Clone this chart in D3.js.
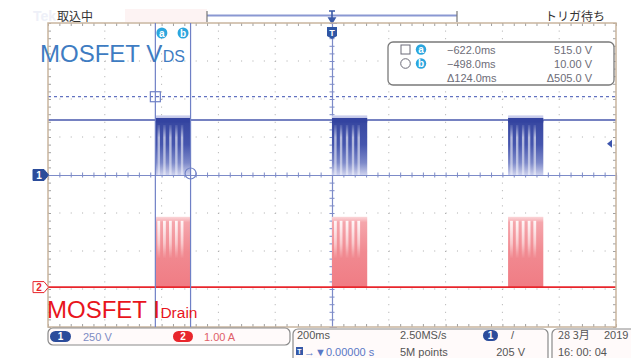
<!DOCTYPE html>
<html><head><meta charset="utf-8">
<script src="https://cdn.jsdelivr.net/npm/d3@7"></script>
<style>
body{margin:0;background:#fff}
svg{display:block}
text{font-family:"Liberation Sans",Arial,sans-serif}
.jp{font-family:"Noto Sans CJK JP","Noto Sans",sans-serif}
</style>
</head><body>
<svg id="c" width="631" height="358"></svg>
<script>
// ---------- data ----------
const timePerDivMs = 200;
const ch1VoltsPerDiv = 250;
const ch2AmpsPerDiv = 1.0;
const ch1OffsetDiv = 0;
const ch2OffsetDiv = -2.95;
const burstStartMs = [-622, 0, 620];
const burstLenMs = 124;
const vdsHighV = 362;
const vdsPeakV = 392;
const idPeakA = 1.85;
const pulseDipMs = [12, 32, 53, 74, 94];
const cursorTimesMs = [-622, -498];
const cursorVolts = [515, 10];
const triggerLevelV = 205;
const readoutTimes = ["\u2212622.0ms", "\u2212498.0ms", "\u0394124.0ms"];
const readoutVolts = ["515.0 V", "10.00 V", "\u0394505.0 V"];
const statusLeft = "取込中";
const statusRight = "トリガ待ち";
const ch1ScaleLabel = "250 V";
const ch2ScaleLabel = "1.00 A";
const horizRow1 = ["200ms", "2.50MS/s"];
const horizRow2 = ["\u2192\u25BC0.00000 s", "5M points"];
const trigLabel = "205 V";
const dateRow = ["28 3月", "2019", "16: 00: 04"];
const vdsTitle = ["MOSFET V", "DS"];
const idTitle = ["MOSFET I", "Drain"];

// ---------- scales ----------
const svg = d3.select("#c");
const X0 = 48, X1 = 616, Y0 = 23, Y1 = 327;
const xT = d3.scaleLinear().domain([-5 * timePerDivMs, 5 * timePerDivMs]).range([X0, X1]);
const yDiv = d3.scaleLinear().domain([-4, 4]).range([Y1, Y0]);
const yV = v => yDiv(v / ch1VoltsPerDiv + ch1OffsetDiv);
const yI = a => yDiv(a / ch2AmpsPerDiv + ch2OffsetDiv);

const blue = "#4757ad", lblue = "#7d8bc8", red = "#e8262c", tan = "#c9b59e";

// ---------- defs ----------
const defs = svg.append("defs");
function vgrad(id, stops) {
  const g = defs.append("linearGradient").attr("id", id).attr("x1", 0).attr("y1", 0).attr("x2", 0).attr("y2", 1);
  stops.forEach(s => g.append("stop").attr("offset", s[0]).attr("stop-color", s[1]).attr("stop-opacity", s[2] == null ? 1 : s[2]));
}
vgrad("gV", [[0, "#3646a0"], [0.45, "#4656ae"], [0.78, "#7d89c9"], [1, "#cdd1ed"]]);
vgrad("gVs", [[0, "#ffffff", 0.1], [0.25, "#ffffff", 0.6], [1, "#ffffff", 0.45]]);
vgrad("gI", [[0, "#fbd6d9"], [0.08, "#f5a6ac"], [0.5, "#f18a91"], [1, "#f07c84"]]);
vgrad("gIs", [[0, "#ffffff", 0.9], [0.6, "#ffffff", 0.5], [1, "#ffffff", 0]]);
defs.append("filter").attr("id", "blur").append("feGaussianBlur").attr("stdDeviation", 0.55);

// ---------- top status ----------
svg.append("text").attr("x", 33).attr("y", 21).attr("font-size", 14).attr("font-weight", "bold")
  .attr("fill", "#eef0f8").text("Tek");
svg.append("rect").attr("x", 125).attr("y", 9).attr("width", 82).attr("height", 13).attr("fill", "#fdf3f3");
svg.append("text").attr("class", "jp").attr("x", 57).attr("y", 21).attr("font-size", 12).attr("fill", "#333").text(statusLeft);
svg.append("text").attr("class", "jp").attr("x", 545).attr("y", 21).attr("font-size", 12).attr("fill", "#333").text(statusRight);
svg.append("line").attr("x1", 207).attr("x2", 457).attr("y1", 15.5).attr("y2", 15.5).attr("stroke", "#8a98d2").attr("stroke-width", 2);
[207, 457].forEach(x => svg.append("line").attr("x1", x).attr("x2", x).attr("y1", 11).attr("y2", 22).attr("stroke", "#777").attr("stroke-width", 1.2));
const tx = xT(0);
svg.append("path").attr("d", `M${tx - 3},11 H${tx + 3} M${tx},11 V20 M${tx - 3},18 L${tx},23 L${tx + 3},18 Z`)
  .attr("stroke", "#3b5aa8").attr("stroke-width", 1.6).attr("fill", "#3b5aa8");

// ---------- graticule ----------
const g = svg.append("g");
const vLines = d3.range(-4, 5).filter(d => d !== 0).map(d => xT(d * timePerDivMs));
const hLines = d3.range(-3, 4).filter(d => d !== 0).map(d => yDiv(d));
g.selectAll(".gv").data(vLines).join("line").attr("x1", d => d).attr("x2", d => d).attr("y1", Y0).attr("y2", Y1)
  .attr("stroke", "#ababab").attr("stroke-width", 1).attr("stroke-dasharray", "1,6.6");
g.selectAll(".gh").data(hLines).join("line").attr("x1", X0).attr("x2", X1).attr("y1", d => d).attr("y2", d => d)
  .attr("stroke", "#ababab").attr("stroke-width", 1).attr("stroke-dasharray", "1,10.36");

const minorX = d3.range(-25, 26).map(d => d * timePerDivMs / 5);
const minorY = d3.range(-20, 21).map(d => d / 5);
const grayTicks = s => { s.select(".domain").remove(); s.selectAll("line").attr("stroke", "#a0a0a0"); };
g.append("g").attr("transform", `translate(0,${Y0})`).call(d3.axisBottom(xT).tickValues(minorX).tickSize(3).tickFormat("")).call(grayTicks);
g.append("g").attr("transform", `translate(0,${Y1})`).call(d3.axisTop(xT).tickValues(minorX).tickSize(3).tickFormat("")).call(grayTicks);
g.append("g").attr("transform", `translate(${X0},0)`).call(d3.axisRight(yDiv).tickValues(minorY).tickSize(3).tickFormat("")).call(grayTicks);
g.append("g").attr("transform", `translate(${X1},0)`).call(d3.axisLeft(yDiv).tickValues(minorY).tickSize(3).tickFormat("")).call(grayTicks);
g.append("g").attr("transform", `translate(0,${yDiv(0)})`).call(d3.axisBottom(xT).tickValues(minorX).tickSize(5).tickFormat(""))
  .call(s => { s.select(".domain").attr("stroke", lblue).attr("stroke-width", 1.2); s.selectAll(".tick line").attr("stroke", lblue).attr("transform", "translate(0,-2.5)"); });
g.append("g").attr("transform", `translate(${xT(0)},0)`).call(d3.axisRight(yDiv).tickValues(minorY).tickSize(5).tickFormat(""))
  .call(s => { s.select(".domain").attr("stroke", lblue).attr("stroke-width", 1.2); s.selectAll(".tick line").attr("stroke", lblue).attr("transform", "translate(-2.5,0)"); });

// ---------- cursor a horizontal (dashed) ----------
svg.append("line").attr("x1", X0).attr("x2", X1).attr("y1", yV(cursorVolts[0])).attr("y2", yV(cursorVolts[0]))
  .attr("stroke", "#6272c0").attr("stroke-width", 1.2).attr("stroke-dasharray", "3,3");

// ---------- traces ----------
svg.append("line").attr("x1", X0).attr("x2", X1).attr("y1", yV(vdsHighV)).attr("y2", yV(vdsHighV))
  .attr("stroke", blue).attr("stroke-width", 1.6);

const bursts = svg.append("g");
burstStartMs.forEach(t0 => {
  const xa = xT(t0), xb = xT(t0 + burstLenMs);
  bursts.append("rect").attr("x", xa).attr("width", xb - xa).attr("y", yV(vdsPeakV)).attr("height", yV(vdsHighV) - yV(vdsPeakV))
    .attr("fill", "#c9cdec");
  bursts.append("rect").attr("x", xa).attr("width", xb - xa).attr("y", yV(vdsHighV)).attr("height", yV(0) - yV(vdsHighV))
    .attr("fill", "url(#gV)");
  bursts.append("rect").attr("x", xa).attr("width", xb - xa).attr("y", yV(vdsHighV) - 2).attr("height", 4.5).attr("fill", "#3343a0");
  pulseDipMs.forEach(dt => {
    bursts.append("rect").attr("x", xT(t0 + dt) - 1.2).attr("width", 2.4).attr("y", yV(vdsHighV) + 5).attr("height", yV(0) - yV(vdsHighV) - 5)
      .attr("fill", "url(#gVs)").attr("filter", "url(#blur)");
  });
  bursts.append("rect").attr("x", xa).attr("width", xb - xa).attr("y", yI(idPeakA)).attr("height", yI(0) - yI(idPeakA))
    .attr("fill", "url(#gI)");
  pulseDipMs.forEach(dt => {
    bursts.append("rect").attr("x", xT(t0 + dt) - 1.4).attr("width", 2.8).attr("y", yI(idPeakA) + 4).attr("height", yI(0.75) - yI(idPeakA) - 4)
      .attr("fill", "url(#gIs)").attr("filter", "url(#blur)");
  });
});
svg.append("line").attr("x1", X0).attr("x2", X1).attr("y1", yI(0)).attr("y2", yI(0))
  .attr("stroke", red).attr("stroke-width", 1.6);

// ---------- border ----------
svg.append("rect").attr("x", X0).attr("y", Y0).attr("width", X1 - X0).attr("height", Y1 - Y0)
  .attr("fill", "none").attr("stroke", tan).attr("stroke-width", 1.5);

// ---------- cursors ----------
cursorTimesMs.forEach(t => svg.append("line").attr("x1", xT(t)).attr("x2", xT(t)).attr("y1", Y0).attr("y2", Y1)
  .attr("stroke", "#6f80c6").attr("stroke-width", 1.2));
svg.append("rect").attr("x", xT(cursorTimesMs[0]) - 5).attr("y", yV(cursorVolts[0]) - 5).attr("width", 10).attr("height", 10)
  .attr("fill", "none").attr("stroke", "#6f80c6").attr("stroke-width", 1.2);
svg.append("circle").attr("cx", xT(cursorTimesMs[1])).attr("cy", yV(cursorVolts[1])).attr("r", 5.5)
  .attr("fill", "none").attr("stroke", "#6f80c6").attr("stroke-width", 1.2);
const cyan = "#2ba6de";
[[xT(cursorTimesMs[0]) + 6.5, "a"], [xT(cursorTimesMs[1]) - 7.5, "b"]].forEach(([x, l]) => {
  svg.append("circle").attr("cx", x).attr("cy", 33).attr("r", 5.5).attr("fill", cyan);
  svg.append("text").attr("x", x).attr("y", 36.5).attr("text-anchor", "middle").attr("font-size", 10).attr("font-weight", "bold").attr("fill", "#fff").text(l);
});

svg.append("path").attr("d", `M${tx - 5},27 H${tx + 5} V36 L${tx},39 L${tx - 5},36 Z`).attr("fill", "#2f55a4");
svg.append("text").attr("x", tx).attr("y", 35.5).attr("text-anchor", "middle").attr("font-size", 9).attr("font-weight", "bold").attr("fill", "#fff").text("T");
const ty = yV(triggerLevelV);
svg.append("path").attr("d", `M${X1 - 9},${ty} L${X1 - 4},${ty - 4} L${X1 - 4},${ty + 4} Z`).attr("fill", "#3d55ad");

function chMarker(y, fill, stroke, txtFill, label) {
  svg.append("path").attr("d", `M33,${y - 5.5} H44 L48.5,${y} L44,${y + 5.5} H33 Z`).attr("fill", fill).attr("stroke", stroke).attr("stroke-width", 1);
  svg.append("text").attr("x", 39).attr("y", y + 4).attr("text-anchor", "middle").attr("font-size", 10).attr("font-weight", "bold").attr("fill", txtFill).text(label);
}
chMarker(yV(0), "#2b4c9b", "#2b4c9b", "#fff", "1");
chMarker(yI(0), "#fff", red, red, "2");

// ---------- cursor readout box ----------
svg.append("rect").attr("x", 388).attr("y", 42).attr("width", 226).attr("height", 43).attr("rx", 5)
  .attr("fill", "#fff").attr("stroke", "#7a7a7a").attr("stroke-width", 1.3);
svg.append("rect").attr("x", 401).attr("y", 45).attr("width", 9).attr("height", 9).attr("fill", "none").attr("stroke", "#6a6a78").attr("stroke-width", 1);
svg.append("circle").attr("cx", 405.5).attr("cy", 63.5).attr("r", 4.8).attr("fill", "none").attr("stroke", "#6a6a78").attr("stroke-width", 1);
[["a", 49.5], ["b", 63.5]].forEach(([l, y]) => {
  svg.append("circle").attr("cx", 421).attr("cy", y).attr("r", 5.2).attr("fill", cyan);
  svg.append("text").attr("x", 421).attr("y", y + 3.5).attr("text-anchor", "middle").attr("font-size", 10).attr("font-weight", "bold").attr("fill", "#fff").text(l);
});
readoutTimes.forEach((t, i) => svg.append("text").attr("x", 447).attr("y", 54 + i * 14).attr("font-size", 11).attr("fill", "#6d6d78").text(t));
readoutVolts.forEach((t, i) => svg.append("text").attr("x", 592).attr("y", 54 + i * 14).attr("text-anchor", "end").attr("font-size", 11).attr("fill", "#6d6d78").text(t));

// ---------- titles ----------
const t1 = svg.append("text").attr("x", 40).attr("y", 62).attr("fill", "#3e7cc2");
t1.append("tspan").attr("font-size", 24).text(vdsTitle[0]);
t1.append("tspan").attr("font-size", 16).attr("dx", 0.5).text(vdsTitle[1]);
const t2 = svg.append("text").attr("x", 47).attr("y", 318).attr("fill", "#e8141c");
t2.append("tspan").attr("font-size", 24).text(idTitle[0]);
t2.append("tspan").attr("font-size", 15.5).attr("dx", 0.5).text(idTitle[1]);

// ---------- bottom bar ----------
const boxStroke = "#8a8a8a";
svg.append("rect").attr("x", 48).attr("y", 328).attr("width", 242).attr("height", 17).attr("rx", 5).attr("fill", "#fffafa").attr("stroke", boxStroke).attr("stroke-width", 1.2);
svg.append("rect").attr("x", 293).attr("y", 329).attr("width", 255).attr("height", 40).attr("rx", 5).attr("fill", "#fffafa").attr("stroke", boxStroke).attr("stroke-width", 1.2);
svg.append("rect").attr("x", 552).attr("y", 329).attr("width", 100).attr("height", 40).attr("rx", 5).attr("fill", "#fffafa").attr("stroke", boxStroke).attr("stroke-width", 1.2);
function pill(x, y, w, fill, label) {
  svg.append("rect").attr("x", x).attr("y", y).attr("width", w).attr("height", 11).attr("rx", 5.5).attr("fill", fill);
  svg.append("text").attr("x", x + w / 2).attr("y", y + 9).attr("text-anchor", "middle").attr("font-size", 10).attr("font-weight", "bold").attr("fill", "#fff").text(label);
}
pill(50, 331, 21, "#2b4c9b", "1");
pill(173, 331, 20, "#e8262c", "2");
svg.append("text").attr("x", 83).attr("y", 341).attr("font-size", 11).attr("fill", "#7d8cc4").text(ch1ScaleLabel);
svg.append("text").attr("x", 204).attr("y", 341).attr("font-size", 11).attr("fill", "#e06068").text(ch2ScaleLabel);

svg.append("text").attr("x", 297).attr("y", 339).attr("font-size", 11).attr("fill", "#555").text(horizRow1[0]);
svg.append("text").attr("x", 400).attr("y", 339).attr("font-size", 11).attr("fill", "#555").text(horizRow1[1]);
pill(483, 330, 15, "#2b4c9b", "1");
svg.append("text").attr("x", 511).attr("y", 339).attr("font-size", 11).attr("fill", "#555").text("/");
svg.append("rect").attr("x", 296).attr("y", 347).attr("width", 7).attr("height", 8).attr("fill", "#3558a8");
svg.append("text").attr("x", 299.5).attr("y", 354).attr("text-anchor", "middle").attr("font-size", 7).attr("font-weight", "bold").attr("fill", "#fff").text("T");
svg.append("text").attr("x", 304).attr("y", 356).attr("font-size", 11).attr("fill", "#5a78c6").text(horizRow2[0]);
svg.append("text").attr("x", 400).attr("y", 356).attr("font-size", 11).attr("fill", "#555").text(horizRow2[1]);
svg.append("text").attr("x", 525).attr("y", 356).attr("text-anchor", "end").attr("font-size", 11).attr("fill", "#555").text(trigLabel);

svg.append("text").attr("class", "jp").attr("x", 558).attr("y", 339).attr("font-size", 11).attr("fill", "#555").text(dateRow[0]);
svg.append("text").attr("x", 604).attr("y", 339).attr("font-size", 11).attr("fill", "#555").text(dateRow[1]);
svg.append("text").attr("x", 558).attr("y", 356).attr("font-size", 11).attr("fill", "#555").text(dateRow[2]);
</script>
</body></html>
